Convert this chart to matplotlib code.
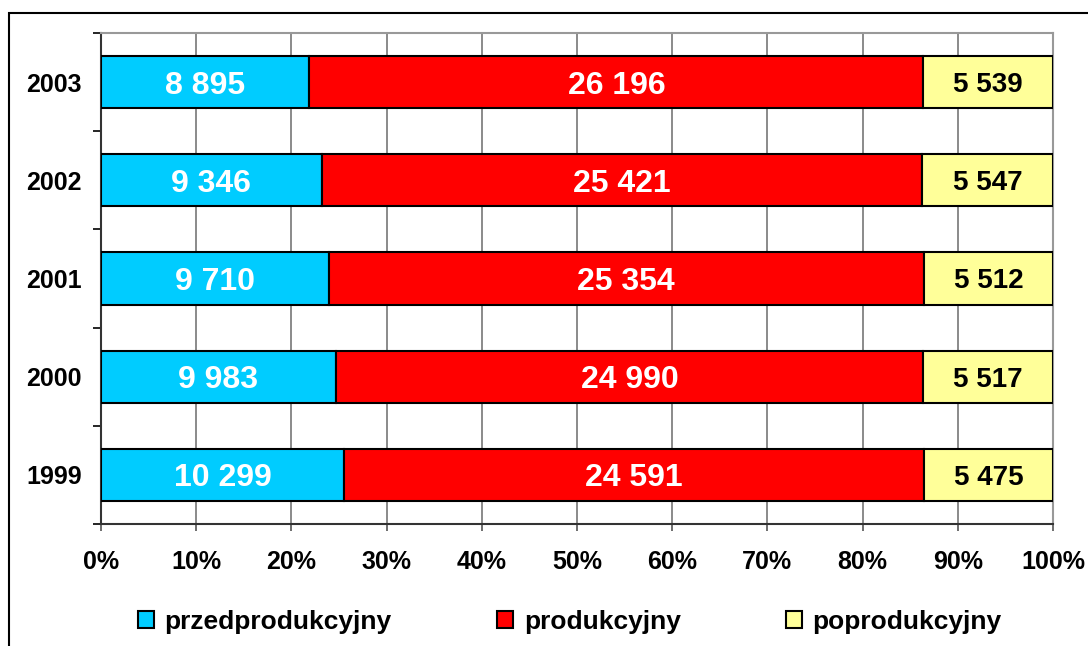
import matplotlib.pyplot as plt
import numpy as np
from matplotlib.patches import Rectangle

plt.rcParams['font.family'] = ['Liberation Sans', 'DejaVu Sans']
plt.rcParams['font.weight'] = 'bold'

# data
years = ['1999', '2000', '2001', '2002', '2003']
przed = [10299, 9983, 9710, 9346, 8895]
prod = [24591, 24990, 25354, 25421, 26196]
popr = [5475, 5517, 5512, 5547, 5539]
series_names = ['przedprodukcyjny', 'produkcyjny', 'poprodukcyjny']
colors = ['#00CCFF', '#FF0000', '#FFFF99']
label_colors = ['white', 'white', 'black']
label_sizes = [23, 23, 20]

vals = np.array([przed, prod, popr], dtype=float)
shares = vals / vals.sum(axis=0) * 100

fig = plt.figure(figsize=(10.88, 6.46), dpi=100)
# outer frame
fig.patches.append(Rectangle((9 / 1088, -0.1), 1.2, 1 - 13 / 646 + 0.1,
                             transform=fig.transFigure, fill=False,
                             edgecolor='black', linewidth=1.5))
ax = fig.add_axes([101 / 1088, 1 - 524 / 646, 952 / 1088, 491 / 646])

y = np.arange(len(years))
left = np.zeros(len(years))
handles = []
for i in range(3):
    b = ax.barh(y, shares[i], left=left, height=0.53, color=colors[i],
                edgecolor='black', linewidth=1.5, zorder=3, label=series_names[i])
    handles.append(b)
    for j in range(len(years)):
        txt = f"{int(vals[i, j]):,}".replace(',', ' ')
        ax.text(left[j] + shares[i, j] / 2, y[j], txt, ha='center', va='center_baseline',
                color=label_colors[i], fontsize=label_sizes[i], fontweight='bold', zorder=4)
    left += shares[i]

ax.set_xlim(0, 100)
ax.set_ylim(-0.5, len(years) - 0.5)
ax.set_xticks(np.arange(0, 101, 10))
ax.set_xticklabels([f"{v}%" for v in range(0, 101, 10)], fontsize=18, fontweight='bold')
ax.set_yticks(y)
ax.set_yticklabels(years, fontsize=18, fontweight='bold')
ax.tick_params(axis='y', which='major', length=0, pad=14)
ax.set_yticks(np.arange(-0.5, len(years), 1), minor=True)
ax.tick_params(axis='y', which='minor', length=6, width=1.2, direction='out')
ax.tick_params(axis='x', length=5, width=1.2, pad=14, color='#555555')
ax.grid(axis='x', color='#777777', linewidth=1.2, zorder=0)

for s in ['top', 'right']:
    ax.spines[s].set_color('#999999')
    ax.spines[s].set_linewidth(1.5)
ax.spines['left'].set_color('#333333')
ax.spines['left'].set_linewidth(1.5)
ax.spines['bottom'].set_color('#333333')
ax.spines['bottom'].set_linewidth(1.5)

fig.legend(handles=handles, loc='center', bbox_to_anchor=(570 / 1088, 1 - 622 / 646),
           ncol=3, frameon=False, handlelength=0.6, handleheight=0.6,
           handletextpad=0.4, columnspacing=4.0,
           prop={'weight': 'bold', 'size': 19})

fig.savefig('out.png', dpi=100)
